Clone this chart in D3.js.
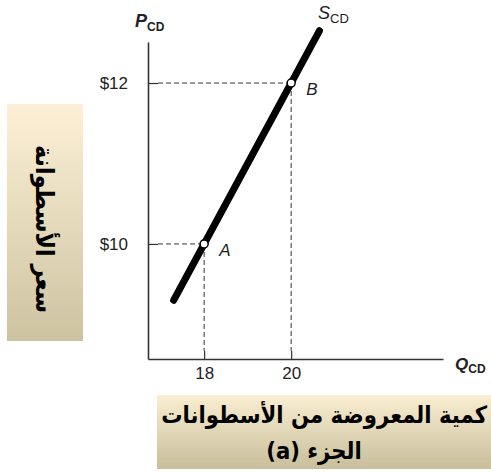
<!DOCTYPE html>
<html>
<head>
<meta charset="utf-8">
<script src="https://cdn.jsdelivr.net/npm/d3@7"></script>
<style>
  body { margin: 0; background: #fff; }
  svg { display: block; }
  text { font-family: "Liberation Sans", Arial, sans-serif; fill: #222; }
  .ar { font-family: "DejaVu Sans Condensed", "DejaVu Sans", sans-serif; font-weight: bold; fill: #000; }
</style>
</head>
<body>
<script>
// Data
var priceTicks = [10, 12];
var qtyTicks = [18, 20];
var pointNames = ["A", "B"];
var pointQty = [18, 20];
var pointPrice = [10, 12];
var supplyQty = [17.3, 20.65];
var supplyPrice = [9.3, 12.65];
var yTitle = "سعر الأسطوانة";
var xTitle = ["كمية المعروضة من الأسطوانات", "الجزء (a)"];

var width = 491, height = 472;

var svg = d3.select("body").append("svg")
  .attr("width", width)
  .attr("height", height);

// scales
var x = d3.scaleLinear().domain([16.71, 23.49]).range([148, 443]);
var y = d3.scaleLinear().domain([8.57, 12.51]).range([359, 42]);

// gradients for the label boxes
var defs = svg.append("defs");
function addGrad(id, c0, c1) {
  var g = defs.append("linearGradient").attr("id", id)
    .attr("x1", 0).attr("y1", 0).attr("x2", 0).attr("y2", 1);
  g.append("stop").attr("offset", "0%").attr("stop-color", c0);
  g.append("stop").attr("offset", "100%").attr("stop-color", c1);
}
addGrad("gLeft", "#fdf0d6", "#cdc3a1");
addGrad("gBottom", "#faeed2", "#c8be9b");

// shrink a text until it fits a given length
function fitText(sel, maxLen, size) {
  sel.style("font-size", size + "px");
  var w = sel.node().getComputedTextLength();
  if (w > maxLen) {
    size = size * maxLen / w;
    sel.style("font-size", size + "px");
  }
  return size;
}

// left box with vertical title
svg.append("rect")
  .attr("x", 7).attr("y", 104).attr("width", 76).attr("height", 237)
  .attr("fill", "url(#gLeft)");
var lt = svg.append("text")
  .attr("class", "ar")
  .attr("transform", "translate(36,229) rotate(90)")
  .attr("text-anchor", "middle")
  .attr("direction", "rtl")
  .text(yTitle);
fitText(lt, 168, 28);

// bottom box with x title
svg.append("rect")
  .attr("x", 157).attr("y", 395).attr("width", 334).attr("height", 74)
  .attr("fill", "url(#gBottom)");
var t1 = svg.append("text")
  .attr("class", "ar")
  .attr("y", 423)
  .attr("text-anchor", "middle")
  .attr("direction", "rtl")
  .text(xTitle[0]);
var s1 = fitText(t1, 326, 26);
t1.attr("x", 487 - t1.node().getComputedTextLength() / 2);
svg.append("text")
  .attr("class", "ar")
  .attr("x", 314).attr("y", 459)
  .attr("text-anchor", "middle")
  .attr("direction", "rtl")
  .style("font-size", s1 + "px")
  .text(xTitle[1]);

// axes
var yAxis = d3.axisLeft(y).tickValues(priceTicks)
  .tickSize(-10).tickSizeOuter(0).tickPadding(20)
  .tickFormat(function (d) { return "$" + d; });
var xAxis = d3.axisBottom(x).tickValues(qtyTicks)
  .tickSize(-8).tickSizeOuter(0).tickPadding(8)
  .tickFormat(d3.format("d"));

var gy = svg.append("g").attr("transform", "translate(" + x.range()[0] + ",0)").call(yAxis);
var gx = svg.append("g").attr("transform", "translate(0," + y.range()[0] + ")").call(xAxis);
[gx, gy].forEach(function (g) {
  g.select(".domain").attr("stroke", "#333").attr("stroke-width", 1.6);
  g.selectAll(".tick line").attr("stroke", "#333").attr("stroke-width", 1.2);
  g.selectAll(".tick text").style("font-size", "17px")
    .style("font-family", "Liberation Sans, Arial, sans-serif").attr("fill", "#222");
});

// dashed guides
var guides = svg.append("g")
  .attr("stroke", "#333").attr("stroke-width", 1).attr("stroke-dasharray", "5,3").attr("fill", "none");
pointQty.forEach(function (q, i) {
  guides.append("line")
    .attr("x1", x.range()[0] + 10).attr("x2", x(q))
    .attr("y1", y(pointPrice[i])).attr("y2", y(pointPrice[i]));
  guides.append("line")
    .attr("x1", x(q)).attr("x2", x(q))
    .attr("y1", y(pointPrice[i])).attr("y2", y.range()[0] - 8);
});

// supply line
var line = d3.line().x(function (d) { return x(d[0]); }).y(function (d) { return y(d[1]); });
svg.append("path")
  .datum(d3.zip(supplyQty, supplyPrice))
  .attr("d", line)
  .attr("stroke", "#000").attr("stroke-width", 7).attr("stroke-linecap", "round").attr("fill", "none");

// points
pointQty.forEach(function (q, i) {
  svg.append("circle")
    .attr("cx", x(q)).attr("cy", y(pointPrice[i])).attr("r", 4)
    .attr("fill", "#fff").attr("stroke", "#000").attr("stroke-width", 1.5);
  svg.append("text")
    .attr("x", x(q) + 15).attr("y", y(pointPrice[i]) + 12)
    .style("font-size", "17px").style("font-style", "italic")
    .text(pointNames[i]);
});

// axis and curve labels
var pl = svg.append("text").attr("x", 135).attr("y", 27).style("font-weight", "bold");
pl.append("tspan").style("font-size", "18px").style("font-style", "italic").text("P");
pl.append("tspan").style("font-size", "12px").attr("dy", 4).text("CD");

var ql = svg.append("text").attr("x", 455).attr("y", 370).style("font-weight", "bold");
ql.append("tspan").style("font-size", "17px").style("font-style", "italic").text("Q");
ql.append("tspan").style("font-size", "12px").attr("dy", 3).text("CD");

var sl = svg.append("text").attr("x", 318).attr("y", 19);
sl.append("tspan").style("font-size", "18px").style("font-style", "italic").text("S");
sl.append("tspan").style("font-size", "13px").attr("dy", 4).text("CD");
</script>
</body>
</html>
